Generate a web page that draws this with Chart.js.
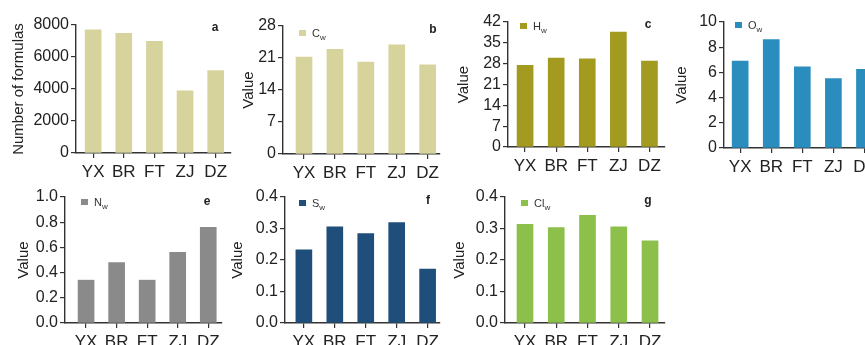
<!DOCTYPE html>
<html>
<head>
<meta charset="utf-8">
<script src="https://cdn.jsdelivr.net/npm/chart.js@4.4.1/dist/chart.umd.min.js"></script>
<style>
  html, body { margin: 0; padding: 0; background: #fff; }
  body { width: 865px; height: 345px; overflow: hidden; position: relative; font-family: "Liberation Sans", Arial, sans-serif; }
  .panel { position: absolute; }
  .lgd { position: absolute; font-size: 11px; color: #333; white-space: nowrap; line-height: 12px; }
  .lgd i { display: inline-block; width: 7px; height: 6px; margin-right: 6px; vertical-align: 1px; }
  .lgd sub { font-size: 8px; vertical-align: -3px; }
  .letter { position: absolute; font-size: 12px; font-weight: bold; color: #222; transform: translate(-50%, -50%); }
</style>
</head>
<body>
<script>
// ---- data
const categories  = ['YX', 'BR', 'FT', 'ZJ', 'DZ'];
const formulaCnt  = [7700, 7480, 6980, 3880, 5150];
const carbonW     = [21.2, 22.9, 20.1, 23.9, 19.5];
const hydrogenW   = [27.4, 29.9, 29.6, 38.6, 28.9];
const oxygenW     = [6.9, 8.6, 6.45, 5.5, 6.25];
const nitrogenW   = [0.34, 0.48, 0.34, 0.56, 0.76];
const sulfurW     = [0.232, 0.305, 0.284, 0.319, 0.171];
const chlorineW   = [0.313, 0.303, 0.342, 0.305, 0.261];

const ticksA  = [0, 2000, 4000, 6000, 8000];
const ticksB  = [0, 7, 14, 21, 28];
const ticksC  = [0, 7, 14, 21, 28, 35, 42];
const ticksD  = [0, 2, 4, 6, 8, 10];
const ticksE  = [0, 0.2, 0.4, 0.6, 0.8, 1.0];
const ticksFG = [0, 0.1, 0.2, 0.3, 0.4];

Chart.defaults.font.family = '"Liberation Sans", Arial, sans-serif';
Chart.defaults.color = '#222';

// ---- panels (layout only)
const panels = [
  { letter: 'a', vals: formulaCnt, ticks: ticksA, dec: 0, color: '#d6d49c', title: 'Number of formulas',
    axisX: 76, axisRight: 231, top: 25, bottom: 153, titleX: 19, xMin: -0.56, xMax: 4.5,
    lx: 215, ly: 27 },
  { letter: 'b', vals: carbonW, ticks: ticksB, dec: 0, color: '#d6d49c', title: 'Value', sym: 'C',
    axisX: 283, axisRight: 440, top: 26, bottom: 154, titleX: 249, xMin: -0.68, xMax: 4.4,
    lx: 433, ly: 29, gx: 299, gy: 33.5 },
  { letter: 'c', vals: hydrogenW, ticks: ticksC, dec: 0, color: '#a39a20', title: 'Value', sym: 'H',
    axisX: 508, axisRight: 665, top: 22, bottom: 147, titleX: 464, xMin: -0.55, xMax: 4.5,
    lx: 648, ly: 24, gx: 520, gy: 27 },
  { letter: '', vals: oxygenW, ticks: ticksD, dec: 0, color: '#2b8cbe', title: 'Value', sym: 'O',
    axisX: 724, axisRight: 880, top: 22, bottom: 148, titleX: 682, xMin: -0.52, xMax: 4.5,
    gx: 735, gy: 26 },
  { letter: 'e', vals: nitrogenW, ticks: ticksE, dec: 1, color: '#8a8a8a', title: 'Value', sym: 'N',
    axisX: 65, axisRight: 222, top: 197, bottom: 323, titleX: 24, xMin: -0.69, xMax: 4.45,
    lx: 207, ly: 201, gx: 81, gy: 203 },
  { letter: 'f', vals: sulfurW, ticks: ticksFG, dec: 1, color: '#1f4e7a', title: 'Value', sym: 'S',
    axisX: 285, axisRight: 440, top: 197, bottom: 323, titleX: 238, xMin: -0.61, xMax: 4.4,
    lx: 428, ly: 200, gx: 299, gy: 203.5 },
  { letter: 'g', vals: chlorineW, ticks: ticksFG, dec: 1, color: '#8dc04b', title: 'Value', sym: 'Cl',
    axisX: 505, axisRight: 665, top: 197, bottom: 323, titleX: 460, xMin: -0.64, xMax: 4.48,
    lx: 648, ly: 200, gx: 521, gy: 204 },
];

function makePanel(p, idx) {
  const left = p.titleX - 12;
  const top = p.top - 14;
  const width = p.axisRight - left + 4;
  const height = p.bottom - top + 30;

  const box = document.createElement('div');
  box.className = 'panel';
  box.style.left = left + 'px';
  box.style.top = top + 'px';
  box.style.width = width + 'px';
  box.style.height = height + 'px';
  const cv = document.createElement('canvas');
  cv.id = 'panel_' + idx;
  cv.width = width; cv.height = height;
  box.appendChild(cv);
  document.body.appendChild(box);

  new Chart(cv.getContext('2d'), {
    type: 'bar',
    data: {
      datasets: [{
        data: p.vals.map((v, i) => ({ x: i, y: v })),
        backgroundColor: p.color,
        barThickness: 16,
      }],
    },
    options: {
      responsive: false,
      animation: false,
      layout: { padding: { left: 0, top: 14, right: 4, bottom: 0 } },
      plugins: { legend: { display: false }, tooltip: { enabled: false } },
      scales: {
        x: {
          type: 'linear',
          offset: false,
          min: p.xMin, max: p.xMax,
          afterBuildTicks: s => { s.ticks = categories.map((c, i) => ({ value: i })); },
          afterFit: s => { s.height = 30; },
          ticks: {
            callback: v => categories[v],
            autoSkip: false, maxRotation: 0,
            padding: 4,
            font: { size: 17 }, color: '#222',
          },
          grid: { offset: false, drawOnChartArea: false, tickLength: 5, color: '#333', lineWidth: 1.2 },
          border: { color: '#333', width: 1.4 },
        },
        y: {
          min: 0, max: p.ticks[p.ticks.length - 1],
          afterBuildTicks: s => { s.ticks = p.ticks.map(v => ({ value: v })); },
          afterFit: s => { s.width = p.axisX - left; },
          ticks: {
            callback: v => v.toFixed(p.dec),
            autoSkip: false,
            padding: 2,
            font: { size: 16 }, color: '#222',
          },
          grid: { drawOnChartArea: false, tickLength: 5, color: '#333', lineWidth: 1.2 },
          border: { color: '#333', width: 1.4 },
          title: {
            display: true, text: p.title, color: '#222',
            font: { size: 15 }, padding: { top: 3, bottom: 0 },
          },
        },
      },
    },
  });

  // ---- legend + panel letter
  if (p.sym) {
    const lg = document.createElement('div');
    lg.className = 'lgd';
    lg.style.left = p.gx + 'px';
    lg.style.top = (p.gy - 7) + 'px';
    lg.innerHTML = '<i style="background:' + p.color + '"></i>' + p.sym + '<sub>w</sub>';
    document.body.appendChild(lg);
  }
  if (p.letter) {
    const lt = document.createElement('div');
    lt.className = 'letter';
    lt.style.left = p.lx + 'px';
    lt.style.top = p.ly + 'px';
    lt.textContent = p.letter;
    document.body.appendChild(lt);
  }
}

panels.forEach(makePanel);
</script>
</body>
</html>
